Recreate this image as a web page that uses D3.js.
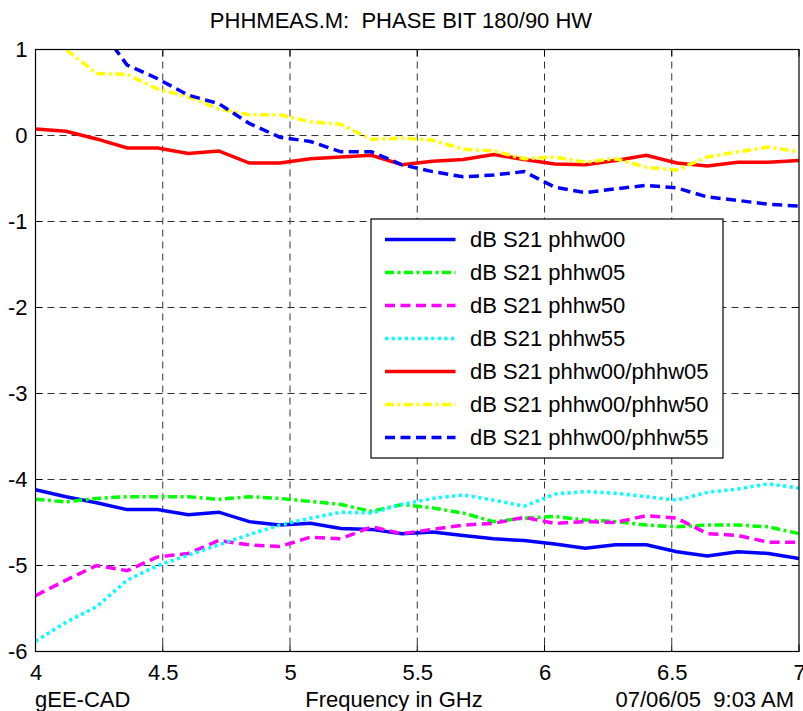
<!DOCTYPE html>
<html><head><meta charset="utf-8">
<script src="https://cdn.jsdelivr.net/npm/d3@7"></script>
<style>
html,body{margin:0;padding:0;background:#fff;}
text{font-family:"Liberation Sans",Arial,Helvetica,sans-serif;fill:#000;white-space:pre;}
</style></head>
<body>
<svg id="chart" width="803" height="711"></svg>
<script>
const freq = [4.00,4.12,4.24,4.36,4.48,4.60,4.72,4.84,4.96,5.08,5.20,5.32,5.44,5.56,5.68,5.80,5.92,6.04,6.16,6.28,6.40,6.52,6.64,6.76,6.88,7.00];
const phhw00 = [-4.12,-4.20,-4.27,-4.35,-4.35,-4.41,-4.38,-4.49,-4.53,-4.51,-4.57,-4.58,-4.63,-4.61,-4.65,-4.69,-4.71,-4.75,-4.80,-4.76,-4.76,-4.84,-4.89,-4.84,-4.86,-4.92];
const phhw05 = [-4.23,-4.26,-4.22,-4.20,-4.20,-4.20,-4.23,-4.20,-4.22,-4.255,-4.29,-4.37,-4.29,-4.33,-4.39,-4.49,-4.45,-4.43,-4.47,-4.49,-4.53,-4.55,-4.53,-4.53,-4.55,-4.63];
const phhw50 = [-5.35,-5.17,-5.00,-5.06,-4.90,-4.86,-4.71,-4.76,-4.78,-4.67,-4.69,-4.55,-4.63,-4.58,-4.53,-4.51,-4.44,-4.51,-4.49,-4.50,-4.42,-4.45,-4.63,-4.65,-4.73,-4.73];
const phhw55 = [-5.88,-5.66,-5.48,-5.17,-5.00,-4.88,-4.76,-4.64,-4.53,-4.45,-4.38,-4.39,-4.29,-4.22,-4.18,-4.24,-4.31,-4.17,-4.14,-4.16,-4.20,-4.24,-4.15,-4.11,-4.05,-4.10];
const ratio0005 = [0.075,0.05,-0.04,-0.145,-0.145,-0.21,-0.18,-0.32,-0.32,-0.27,-0.25,-0.23,-0.34,-0.30,-0.28,-0.22,-0.28,-0.33,-0.34,-0.29,-0.23,-0.32,-0.355,-0.31,-0.31,-0.29];
const ratio0050 = [1.25,1.00,0.72,0.71,0.54,0.45,0.31,0.24,0.24,0.16,0.13,-0.045,-0.03,-0.055,-0.16,-0.18,-0.27,-0.25,-0.31,-0.27,-0.37,-0.40,-0.25,-0.19,-0.135,-0.19];
const ratio0055 = [1.90,1.60,1.30,0.82,0.66,0.47,0.37,0.14,-0.02,-0.07,-0.19,-0.19,-0.34,-0.42,-0.48,-0.46,-0.42,-0.60,-0.665,-0.62,-0.58,-0.61,-0.715,-0.755,-0.80,-0.82];

const seriesNames = ["dB S21 phhw00","dB S21 phhw05","dB S21 phhw50","dB S21 phhw55","dB S21 phhw00/phhw05","dB S21 phhw00/phhw50","dB S21 phhw00/phhw55"];
const seriesValues = [phhw00, phhw05, phhw50, phhw55, ratio0005, ratio0050, ratio0055];
const seriesColors = ["#0000ff","#00ff00","#ff00ff","#00ffff","#ff0000","#ffff00","#0000ff"];
const seriesDash = [null,"9,3.5,3,3.5","10,5.5","3.2,3.4",null,"9,3.5,3,3.5","10,5.5"];

const xTicks = [4,4.5,5,5.5,6,6.5,7];
const xTickLabels = ["4","4.5","5","5.5","6","6.5","7"];
const yTicks = [-6,-5,-4,-3,-2,-1,0,1];
const yTickLabels = ["-6","-5","-4","-3","-2","-1","0","1"];
const titleText = "PHHMEAS.M:  PHASE BIT 180/90 HW";
const xLabel = "Frequency in GHz";
const leftFooter = "gEE-CAD";
const rightFooter = "07/06/05  9:03 AM";

const L = 35.5, R = 799, T = 49.5, B = 651.5;
const x = d3.scaleLinear().domain([4,7]).range([L,R]);
const y = d3.scaleLinear().domain([-6,1]).range([B,T]);
const svg = d3.select("#chart");

svg.append("defs").append("clipPath").attr("id","clip")
  .append("rect").attr("x",L).attr("y",T).attr("width",R-L).attr("height",B-T);

// grid
const grid = svg.append("g");
grid.selectAll("line.vx").data(xTicks.slice(1,-1)).enter().append("line")
  .attr("x1",d=>x(d)).attr("x2",d=>x(d)).attr("y1",T).attr("y2",B)
  .attr("stroke","#333").attr("stroke-width",1).attr("stroke-dasharray","7,5");
grid.selectAll("line.hy").data(yTicks.slice(1,-1)).enter().append("line")
  .attr("y1",d=>y(d)).attr("y2",d=>y(d)).attr("x1",L).attr("x2",R)
  .attr("stroke","#333").attr("stroke-width",1).attr("stroke-dasharray","7,5");

// axes with inside ticks
const fs = 22;
const xAxis = d3.axisBottom(x).tickValues(xTicks).tickFormat((d,i)=>xTickLabels[i]).tickSize(0).tickPadding(13);
const gx = svg.append("g").attr("transform",`translate(0,${B})`).call(xAxis);
gx.select(".domain").remove();
gx.selectAll("text").attr("font-size",fs).style("font-family","Liberation Sans, Arial, sans-serif");
const yAxis = d3.axisLeft(y).tickValues(yTicks).tickFormat((d,i)=>yTickLabels[i]).tickSize(0).tickPadding(8);
const gy = svg.append("g").attr("transform",`translate(${L},0)`).call(yAxis);
gy.select(".domain").remove();
gy.selectAll("text").attr("font-size",fs).style("font-family","Liberation Sans, Arial, sans-serif");

// tick marks inside
const tk = svg.append("g").attr("stroke","#000").attr("stroke-width",1);
xTicks.forEach(d=>{
  tk.append("line").attr("x1",x(d)).attr("x2",x(d)).attr("y1",B).attr("y2",B-7);
  tk.append("line").attr("x1",x(d)).attr("x2",x(d)).attr("y1",T).attr("y2",T+7);
});
yTicks.forEach(d=>{
  tk.append("line").attr("y1",y(d)).attr("y2",y(d)).attr("x1",L).attr("x2",L+7);
  tk.append("line").attr("y1",y(d)).attr("y2",y(d)).attr("x1",R).attr("x2",R-7);
});

// lines
const line = d3.line().x((d,i)=>x(freq[i])).y(d=>y(d));
const lg = svg.append("g").attr("clip-path","url(#clip)");
seriesValues.forEach((vals,k)=>{
  lg.append("path").datum(vals).attr("d",line).attr("fill","none")
    .attr("stroke",seriesColors[k]).attr("stroke-width",3.5)
    .attr("stroke-dasharray",seriesDash[k]);
});

// frame
svg.append("rect").attr("x",L).attr("y",T).attr("width",R-L).attr("height",B-T)
  .attr("fill","none").attr("stroke","#000").attr("stroke-width",1.2);

// legend
const lx = 371, ly = 219, lw = 352, lh = 239;
const leg = svg.append("g");
leg.append("rect").attr("x",lx).attr("y",ly).attr("width",lw).attr("height",lh)
  .attr("fill","#fff").attr("stroke","#000").attr("stroke-width",1.2);
seriesNames.forEach((nm,k)=>{
  const yy = 239.5 + 33*k;
  leg.append("line").attr("x1",385).attr("x2",455.5).attr("y1",yy).attr("y2",yy)
    .attr("stroke",seriesColors[k]).attr("stroke-width",3.5).attr("stroke-dasharray",seriesDash[k]);
  leg.append("text").attr("x",470).attr("y",yy).attr("dy","0.36em").attr("font-size",fs).text(nm);
});

// titles
svg.append("text").attr("x",401).attr("y",28).attr("text-anchor","middle").attr("font-size",fs).text(titleText);
svg.append("text").attr("x",394).attr("y",707).attr("text-anchor","middle").attr("font-size",fs).text(xLabel);
svg.append("text").attr("x",35).attr("y",707).attr("font-size",fs).text(leftFooter);
svg.append("text").attr("x",794).attr("y",707).attr("text-anchor","end").attr("font-size",fs).text(rightFooter);
</script>
</body></html>
